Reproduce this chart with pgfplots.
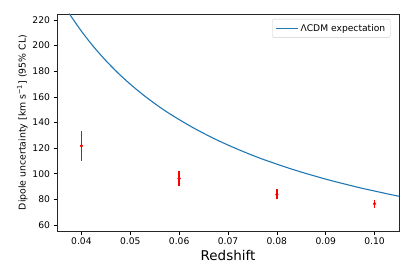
\documentclass[border=0pt]{standalone}
\usepackage{pgfplots}
\pgfplotsset{compat=1.18}
\usepackage{fontspec}
\setmainfont{DejaVu Sans}
\definecolor{mplblue}{HTML}{1F77B4}
\begin{document}
\begin{tikzpicture}
\begin{axis}[
  name=ax,
  scale only axis,
  width=342bp, height=217bp,
  xmin=0.035, xmax=0.105,
  ymin=55.3, ymax=224.7,
  xtick={0.04,0.05,0.06,0.07,0.08,0.09,0.10},
  xticklabels={0.04,0.05,0.06,0.07,0.08,0.09,0.10},
  ytick={60,80,100,120,140,160,180,200,220},
  tick align=outside,
  tick pos=left,
  major tick length=3.5bp,
  every tick/.style={black, line width=0.6pt},
  axis line style={line width=0.6pt, black!85},
  /pgf/number format/assume math mode=true,
  ticklabel style={font=\fontsize{9.2}{10}\selectfont},
  xlabel={Redshift},
  xlabel style={font=\fontsize{13.5}{15}\selectfont, yshift=2bp},
  ylabel={Dipole uncertainty [km s\textsuperscript{\char"2212 1}] (95\% CL)},
  ylabel style={font=\fontsize{9.4}{11}\selectfont, yshift=-2bp},
  legend style={at={(0.975,0.977)}, anchor=north east, draw=black!20, rounded corners=2pt,
    font=\fontsize{9.2}{11}\selectfont, inner sep=3pt},
  legend cell align=left,
  legend image code/.code={\draw[#1] (0bp,0bp) -- (22bp,0bp);},
  clip=true,
]
\addplot[mplblue, line width=1.1pt, smooth] coordinates {
(0.0375,225.0) (0.04,211.3) (0.0425,199.1) (0.045,188.3) (0.0475,178.6)
(0.05,169.9) (0.0525,162.0) (0.055,154.8) (0.0575,148.2) (0.06,142.3)
(0.0625,136.7) (0.065,131.6) (0.0675,126.8) (0.07,122.4) (0.0725,118.3)
(0.075,114.4) (0.0775,110.8) (0.08,107.5) (0.0825,104.3) (0.085,101.3)
(0.0875,98.5) (0.09,95.8) (0.0925,93.3) (0.095,90.9) (0.0975,88.6)
(0.1,86.5) (0.1025,84.4) (0.105,82.4)
};
\addlegendentry{ΛCDM expectation}
% error bars (95% CL ranges)
\addplot[red, line width=1.8bp, forget plot] coordinates {(0.04,110.2) (0.04,133.4)};
\addplot[red, line width=1.5bp, forget plot] coordinates {(0.06,90.3) (0.06,102.3)};
\addplot[red, line width=1.5bp, forget plot] coordinates {(0.08,79.9) (0.08,87.9)};
\addplot[red, line width=1.5bp, forget plot] coordinates {(0.10,73.5) (0.10,79.7)};
\addplot[red, only marks, mark=*, mark size=1.4pt, forget plot] coordinates {
(0.04,121.8) (0.06,96.3) (0.08,83.9) (0.10,76.6)
};
\end{axis}
\pgfresetboundingbox
\path ([shift={(-57bp,-44bp)}]ax.south west) rectangle ++(413bp,275bp);
\end{tikzpicture}
\end{document}
